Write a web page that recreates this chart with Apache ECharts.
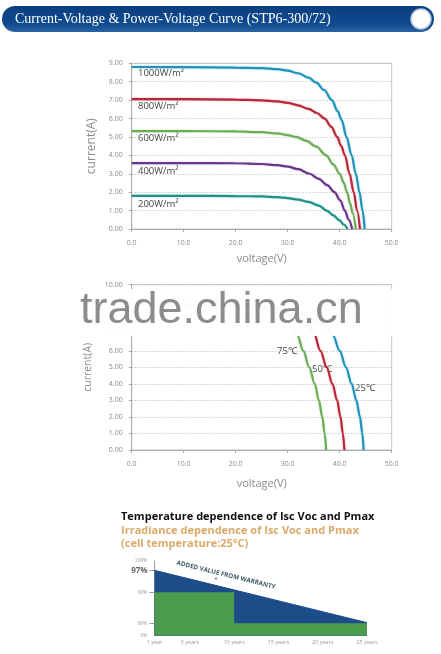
<!DOCTYPE html>
<html><head><meta charset="utf-8">
<script src="https://cdn.jsdelivr.net/npm/echarts@6/dist/echarts.min.js"></script>
<style>html,body{margin:0;padding:0;background:#fff;}#c{width:441px;height:654px;}</style>
</head><body><div id="c"></div>
<script>
// ---------- data ----------
const pageTitle = 'Current-Voltage & Power-Voltage Curve (STP6-300/72)';
const irrLabels = ['1000W/m²', '800W/m²', '600W/m²', '400W/m²', '200W/m²'];
const irr1000 = [[0,8.8],[10,8.79],[20,8.77],[25,8.74],[28,8.68],[30,8.6],[32,8.46],[34,8.22],[35.5,7.95],[37,7.55],[38.5,7.0],[39.6,6.4],[40.4,5.9],[41.3,5.0],[42.3,4.0],[43.1,3.0],[43.8,2.0],[44.4,1.0],[44.8,0]];
const irr800 = [[0,7.05],[10,7.05],[20,7.03],[25,6.99],[28,6.93],[30,6.85],[32,6.72],[34,6.52],[35.6,6.3],[37.1,6.0],[38.4,5.55],[39.5,5.0],[40.3,4.5],[41.0,4.0],[41.9,3.0],[42.7,2.0],[43.35,1.0],[43.9,0]];
const irr600 = [[0,5.32],[10,5.32],[20,5.3],[25,5.26],[28,5.19],[30,5.1],[31.6,5.0],[33.5,4.8],[35.5,4.47],[37.4,4.0],[38.8,3.5],[40.0,3.0],[40.8,2.5],[41.4,2.0],[42.0,1.4],[42.5,0.85],[43.1,0]];
const irr400 = [[0,3.58],[10,3.58],[20,3.57],[25,3.53],[28,3.47],[30,3.39],[32,3.25],[34.2,3.0],[36,2.72],[37.6,2.38],[39.0,2.0],[40.1,1.55],[41.0,1.0],[41.7,0.52],[42.4,0]];
const irr200 = [[0,1.8],[10,1.8],[20,1.79],[25,1.77],[28,1.73],[30,1.68],[32,1.6],[34,1.47],[36,1.27],[37.5,1.0],[38.8,0.74],[39.9,0.48],[40.8,0.23],[41.5,0]];

const tempLabels = ['25℃', '50℃', '75℃'];
const temp25 = [[0,8.78],[10,8.77],[20,8.74],[25,8.68],[28,8.58],[30,8.47],[32,8.3],[34,8.05],[36.2,7.75],[37.6,7.4],[38.7,6.95],[40.0,6.0],[41.2,5.0],[42.3,4.0],[43.2,3.0],[43.9,2.0],[44.35,1.0],[44.6,0]];
const temp50 = [[0,8.82],[10,8.81],[15,8.79],[20,8.75],[25,8.65],[27,8.55],[29,8.38],[31,8.15],[32.5,7.9],[33.8,7.6],[35.0,7.1],[36.3,6.0],[37.5,5.0],[38.6,4.0],[39.5,3.0],[40.15,2.0],[40.6,1.0],[40.9,0]];
const temp75 = [[0,8.85],[10,8.84],[15,8.82],[20,8.76],[23,8.66],[25,8.54],[27,8.35],[29,8.0],[30.5,7.6],[31.8,7.0],[33.0,6.0],[34.15,5.0],[35.2,4.0],[36.0,3.0],[36.65,2.0],[37.1,1.0],[37.4,0]];

const ivYTicks = ['0.00','1.00','2.00','3.00','4.00','5.00','6.00','7.00','8.00','9.00'];
const tvYTicks = ['0.00','1.00','2.00','3.00','4.00','5.00','6.00','7.00','8.00','9.00','10.00'];
const vTickVals = [0, 10, 20, 30, 40, 50];
const vTickLabels = ['0.0','10.0','20.0','30.0','40.0','50.0'];

const sectionTitle1 = 'Temperature dependence of Isc Voc and Pmax';
const sectionTitle2 = 'Irradiance dependence of Isc Voc and Pmax';
const sectionTitle3 = '(cell temperature:25°C)';
const warrantyYears = [1, 5, 10, 15, 20, 25];
const warrantyYearLabels = ['1 year','5 years','10 years','15 years','20 years','25 years'];
const warrantyPctVals = [76, 80, 90, 97, 100];
const warrantyPctLabels = ['0%','80%','90%','97%','100%'];
const addedValue = [[1, 97], [25, 80.2]];
const standardWarranty = [[1, 90], [10, 90], [10, 80], [25, 80]];
const addedValueText = 'ADDED VALUE FROM WARRANTY';
const watermark = 'trade.china.cn';

// ---------- chart ----------
const chart = echarts.init(document.getElementById('c'), null, {renderer: 'canvas'});
const FONT = '"Open Sans", "Liberation Sans", sans-serif';
const tickLbl = {color: '#8a8a8a', fontSize: 7, fontFamily: FONT};
const nameSty = {color: '#8a8a8a', fontSize: 11, fontFamily: FONT};

function ivXAxis(gi, gap) {
  return {
    gridIndex: gi, type: 'value', min: 0, max: 50, interval: 10,
    axisLine: {lineStyle: {color: '#aaa'}},
    axisTick: {length: 3, lineStyle: {color: '#aaa'}},
    axisLabel: Object.assign({margin: 10, formatter: v => vTickLabels[vTickVals.indexOf(v)]}, tickLbl),
    splitLine: {show: false},
    name: 'voltage(V)', nameLocation: 'middle', nameGap: gap, nameTextStyle: nameSty
  };
}
function ivYAxis(gi, max, labels, nameSize) {
  return {
    gridIndex: gi, type: 'value', min: 0, max: max, interval: 1,
    axisLine: {show: true, lineStyle: {color: '#aaa'}},
    axisTick: {show: true, length: 3, lineStyle: {color: '#aaa'}},
    axisLabel: Object.assign({margin: 9, formatter: v => labels[Math.round(v)]}, tickLbl),
    splitLine: {show: true, lineStyle: {color: '#b5b5b5', type: [1, 2], width: 1}},
    name: 'current(A)', nameLocation: 'middle', nameGap: 34, nameRotate: 90,
    nameTextStyle: Object.assign({}, nameSty, {fontSize: nameSize})
  };
}
function curve(name, data, color, xi, glow) {
  return {
    type: 'line', name: name, data: data, xAxisIndex: xi, yAxisIndex: xi,
    showSymbol: false, smooth: 0.35, smoothMonotone: 'x', silent: true,
    lineStyle: {color: color, width: 2.2, shadowColor: glow, shadowBlur: 2},
    z: 3
  };
}

const option = {
  animation: false,
  backgroundColor: '#fff',
  grid: [
    {left: 131.7, right: 49.3, top: 63.3, bottom: 425, show: true, borderColor: '#c4c4c4', borderWidth: 1},
    {left: 131.7, right: 49.3, top: 284.7, bottom: 204, show: true, borderColor: '#c4c4c4', borderWidth: 1},
    {left: 154.5, right: 74, top: 561, bottom: 18.3}
  ],
  xAxis: [
    ivXAxis(0, 24),
    ivXAxis(1, 28),
    {
      gridIndex: 2, type: 'value', min: 1, max: 25,
      axisLine: {lineStyle: {color: '#9a9a9a'}},
      axisTick: {show: false},
      axisLabel: {customValues: warrantyYears, color: '#9a9a9a', fontSize: 5.5, fontFamily: FONT, margin: 4,
        formatter: v => warrantyYearLabels[warrantyYears.indexOf(v)]},
      splitLine: {show: false}
    }
  ],
  yAxis: [
    ivYAxis(0, 9, ivYTicks, 12),
    ivYAxis(1, 10, tvYTicks, 10.5),
    {
      gridIndex: 2, type: 'value', min: 76, max: 100,
      axisLine: {show: true, lineStyle: {color: '#9a9a9a'}},
      axisTick: {show: true, customValues: [80, 90, 97], length: 5, lineStyle: {color: '#9a9a9a'}},
      axisLabel: {customValues: warrantyPctVals, color: '#9a9a9a', fontSize: 5, fontFamily: FONT, margin: 7,
        formatter: v => {
          const t = warrantyPctLabels[warrantyPctVals.indexOf(v)];
          return v === 97 ? '{b|' + t + '}' : t;
        },
        rich: {b: {fontSize: 8, fontWeight: 'bold', color: '#666', fontFamily: FONT}}},
      splitLine: {show: false}
    }
  ],
  series: [
    curve(irrLabels[0], irr1000, '#2a8fb8', 0, 'rgba(120,225,240,0.9)'),
    curve(irrLabels[1], irr800, '#b8283a', 0, 'rgba(240,120,130,0.6)'),
    curve(irrLabels[2], irr600, '#6cab58', 0, 'rgba(170,220,150,0.6)'),
    curve(irrLabels[3], irr400, '#67378a', 0, 'rgba(180,140,210,0.5)'),
    curve(irrLabels[4], irr200, '#268f86', 0, 'rgba(120,225,220,0.8)'),
    curve(tempLabels[0], temp25, '#2a8fb8', 1, 'rgba(120,225,240,0.9)'),
    curve(tempLabels[1], temp50, '#b8283a', 1, 'rgba(240,120,130,0.6)'),
    curve(tempLabels[2], temp75, '#6cab58', 1, 'rgba(170,220,150,0.6)'),
    {
      type: 'line', data: addedValue, xAxisIndex: 2, yAxisIndex: 2, showSymbol: false, silent: true,
      lineStyle: {color: '#1d4c89', width: 1}, areaStyle: {color: '#1d4c89', opacity: 1, origin: 'start'}, z: 2
    },
    {
      type: 'line', data: standardWarranty, xAxisIndex: 2, yAxisIndex: 2, showSymbol: false, silent: true,
      lineStyle: {color: '#4b9c4c', width: 0}, areaStyle: {color: '#4b9c4c', opacity: 1, origin: 'start'}, z: 3
    }
  ],
  graphic: [
    // title bar
    {type: 'rect', shape: {x: 2, y: 6, width: 432, height: 26, r: 13},
      style: {fill: new echarts.graphic.LinearGradient(0, 0, 0, 1, [
        {offset: 0, color: '#0a3f7e'}, {offset: 0.7, color: '#0f4b8f'}, {offset: 1, color: '#2a64a4'}])}},
    {type: 'circle', shape: {cx: 421, cy: 19, r: 10}, style: {fill: '#fff', stroke: '#b9c8dc', lineWidth: 1.5}},
    {type: 'text', x: 15, y: 19, style: {text: pageTitle, fill: '#fff', font: '14px "Liberation Serif", serif', verticalAlign: 'middle'}},
    // irradiance labels
    {type: 'text', x: 138, y: 73.3, style: {text: irrLabels[0], fill: '#444', font: '9.5px ' + FONT, verticalAlign: 'middle'}},
    {type: 'text', x: 138, y: 106, style: {text: irrLabels[1], fill: '#444', font: '9.5px ' + FONT, verticalAlign: 'middle'}},
    {type: 'text', x: 138, y: 138.5, style: {text: irrLabels[2], fill: '#444', font: '9.5px ' + FONT, verticalAlign: 'middle'}},
    {type: 'text', x: 138, y: 171.5, style: {text: irrLabels[3], fill: '#444', font: '9.5px ' + FONT, verticalAlign: 'middle'}},
    {type: 'text', x: 138, y: 204, style: {text: irrLabels[4], fill: '#444', font: '9.5px ' + FONT, verticalAlign: 'middle'}},
    // temperature labels
    {type: 'text', x: 287, y: 351, style: {text: tempLabels[2], fill: '#444', font: '9.5px ' + FONT, align: 'center', verticalAlign: 'middle'}},
    {type: 'text', x: 322, y: 369, style: {text: tempLabels[1], fill: '#444', font: '9.5px ' + FONT, align: 'center', verticalAlign: 'middle'}},
    {type: 'text', x: 365, y: 388, style: {text: tempLabels[0], fill: '#444', font: '9.5px ' + FONT, align: 'center', verticalAlign: 'middle'}},
    // watermark
    {type: 'rect', z: 100, shape: {x: 70, y: 289, width: 330, height: 47}, style: {fill: 'rgba(255,255,255,0.96)'}},
    {type: 'text', z: 101, x: 80, y: 311, style: {text: watermark, fill: '#8c8c8c', font: '45px "Liberation Sans", Arial, sans-serif',
      verticalAlign: 'middle', textShadowColor: '#fff', textShadowBlur: 6}},
    // section titles
    {type: 'text', x: 121, y: 517, style: {text: sectionTitle1, fill: '#111', font: 'bold 11px ' + FONT, verticalAlign: 'middle'}},
    {type: 'text', x: 121, y: 531, style: {text: sectionTitle2, fill: '#dba96a', font: 'bold 11px ' + FONT, verticalAlign: 'middle'}},
    {type: 'text', x: 121, y: 543.5, style: {text: sectionTitle3, fill: '#dba96a', font: 'bold 11px ' + FONT, verticalAlign: 'middle'}},
    // warranty annotation
    {type: 'text', z: 50, x: 226, y: 575, rotation: -0.2437, style: {text: addedValueText, fill: '#3e5a66', font: 'bold 6.3px ' + FONT, align: 'center', verticalAlign: 'middle'}},
    {type: 'text', z: 50, x: 216, y: 579, style: {text: '▼', fill: '#3e5a66', font: '4px sans-serif', align: 'center', verticalAlign: 'middle'}}
  ]
};
chart.setOption(option);
</script></body></html>
